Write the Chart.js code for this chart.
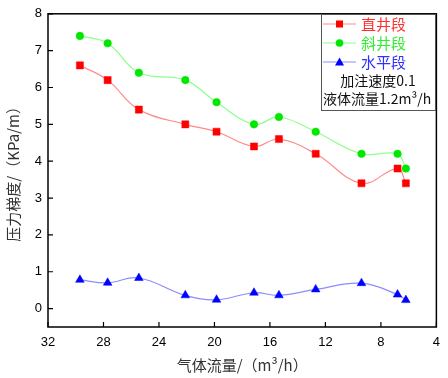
<!DOCTYPE html>
<html>
<head>
<meta charset="utf-8">
<script src="https://cdn.jsdelivr.net/npm/chart.js@4"></script>
<style>
  html, body { margin: 0; padding: 0; background: #fff; }
  #wrap { width: 448px; height: 378px; position: relative; }
</style>
</head>
<body>
<div id="wrap"><canvas id="c"></canvas></div>
<script>
// data
var gasFlow = [29.7, 27.7, 25.45, 22.1, 19.85, 17.15, 15.35, 12.7, 9.4, 6.8, 6.2];
var straight = [6.6, 6.2, 5.4, 5.0, 4.8, 4.4, 4.6, 4.2, 3.4, 3.8, 3.4];
var inclined = [7.4, 7.2, 6.4, 6.2, 5.6, 5.0, 5.2, 4.8, 4.2, 4.2, 3.8];
var horizontal = [0.78, 0.7, 0.83, 0.36, 0.24, 0.43, 0.36, 0.52, 0.69, 0.38, 0.23];
var seriesNames = ['直井段', '斜井段', '水平段'];
var noteLines = ['加注速度0.1', '液体流量1.2m³/h'];
var xTicks = [32, 28, 24, 20, 16, 12, 8, 4];

function pts(ys) {
  return gasFlow.map(function (x, i) { return { x: x, y: ys[i] }; });
}

var styles = [
  { line: '#ff8a8a', mark: '#ff0000', text: '#ff3030', shape: 'rect', r: 5 },
  { line: '#8cff8c', mark: '#00e800', text: '#30ee30', shape: 'circle', r: 3.8 },
  { line: '#8c8cff', mark: '#0000ff', text: '#3030ff', shape: 'triangle', r: 5 }
];

function ds(label, ys, s) {
  return {
    label: label, data: pts(ys), showLine: true,
    borderColor: s.line, borderWidth: 1.2, tension: 0.4,
    pointStyle: s.shape, pointRadius: s.r, pointHoverRadius: s.r,
    pointBackgroundColor: s.mark, pointBorderColor: s.mark, pointBorderWidth: 0.5
  };
}

// frame, inward ticks, boxed legend
var framePlugin = {
  id: 'frame',
  afterDraw: function (chart) {
    var ctx = chart.ctx, a = chart.chartArea;
    var xs = chart.scales.x, ys = chart.scales.y;
    ctx.save();
    ctx.strokeStyle = '#000';
    ctx.lineWidth = 1.5;
    ctx.strokeRect(a.left, a.top, a.right - a.left, a.bottom - a.top);
    ctx.lineWidth = 1.2;
    ctx.beginPath();
    xs.ticks.forEach(function (t) {
      var px = xs.getPixelForValue(t.value);
      ctx.moveTo(px, a.bottom); ctx.lineTo(px, a.bottom - 5);
    });
    ys.ticks.forEach(function (t) {
      var py = ys.getPixelForValue(t.value);
      ctx.moveTo(a.left, py); ctx.lineTo(a.left + 5, py);
    });
    ctx.stroke();

    // legend box
    var bx = 321.5, by = 14.5, bw = 114, bh = 96;
    ctx.fillStyle = '#fff';
    ctx.fillRect(bx, by, bw, bh);
    ctx.strokeStyle = '#555';
    ctx.lineWidth = 1;
    ctx.strokeRect(bx, by, bw, bh);
    ctx.textBaseline = 'middle';
    ctx.font = '15px "Noto Sans CJK SC"';
    seriesNames.forEach(function (name, i) {
      var s = styles[i], y = 24 + i * 19;
      ctx.strokeStyle = s.line;
      ctx.lineWidth = 1.2;
      ctx.beginPath(); ctx.moveTo(323, y); ctx.lineTo(356, y); ctx.stroke();
      ctx.fillStyle = s.mark;
      ctx.beginPath();
      if (s.shape === 'rect') ctx.rect(336, y - 3.5, 7, 7);
      else if (s.shape === 'circle') ctx.arc(339.5, y, 3.8, 0, Math.PI * 2);
      else { ctx.moveTo(339.5, y - 4.5); ctx.lineTo(344, y + 3.5); ctx.lineTo(335, y + 3.5); ctx.closePath(); }
      ctx.fill();
      ctx.fillStyle = s.text;
      ctx.textAlign = 'left';
      ctx.fillText(name, 361, y);
    });
    ctx.fillStyle = '#111';
    ctx.font = '14px "Noto Sans CJK SC"';
    ctx.textAlign = 'center';
    ctx.fillText(noteLines[0], 378, 81);
    ctx.textAlign = 'left';
    ctx.fillText(noteLines[1], 323, 99);
    ctx.restore();
  }
};

new Chart(document.getElementById('c').getContext('2d'), {
  type: 'scatter',
  data: {
    datasets: [
      ds(seriesNames[0], straight, styles[0]),
      ds(seriesNames[1], inclined, styles[1]),
      ds(seriesNames[2], horizontal, styles[2])
    ]
  },
  options: {
    responsive: true, maintainAspectRatio: false, animation: false,
    layout: { padding: { top: 10, right: 7, left: 0, bottom: 0 } },
    plugins: { legend: { display: false }, tooltip: { enabled: false } },
    scales: {
      x: {
        type: 'linear', reverse: true, min: 4, max: 32,
        afterBuildTicks: function (s) { s.ticks = xTicks.map(function (v) { return { value: v }; }); },
        afterFit: function (s) { s.height = 51; },
        grid: { display: false, drawTicks: false },
        border: { display: false },
        ticks: { color: '#000', padding: 8, font: { family: 'Liberation Sans', size: 13 } },
        title: { display: true, text: '气体流量/（m³/h）', color: '#333', padding: { top: 2 }, font: { family: 'Noto Sans CJK SC', size: 15 } }
      },
      y: {
        min: -0.5, max: 8,
        ticks: { stepSize: 1, color: '#000', padding: 6, font: { family: 'Liberation Sans', size: 13 } },
        afterBuildTicks: function (s) { s.ticks = s.ticks.filter(function (t) { return t.value >= 0; }); },
        afterFit: function (s) { s.width = 48; },
        grid: { display: false, drawTicks: false },
        border: { display: false },
        title: { display: true, text: '压力梯度/（KPa/m）', color: '#333', padding: { bottom: 0 }, font: { family: 'Noto Sans CJK SC', size: 15 } }
      }
    }
  },
  plugins: [framePlugin]
});
</script>
</body>
</html>
